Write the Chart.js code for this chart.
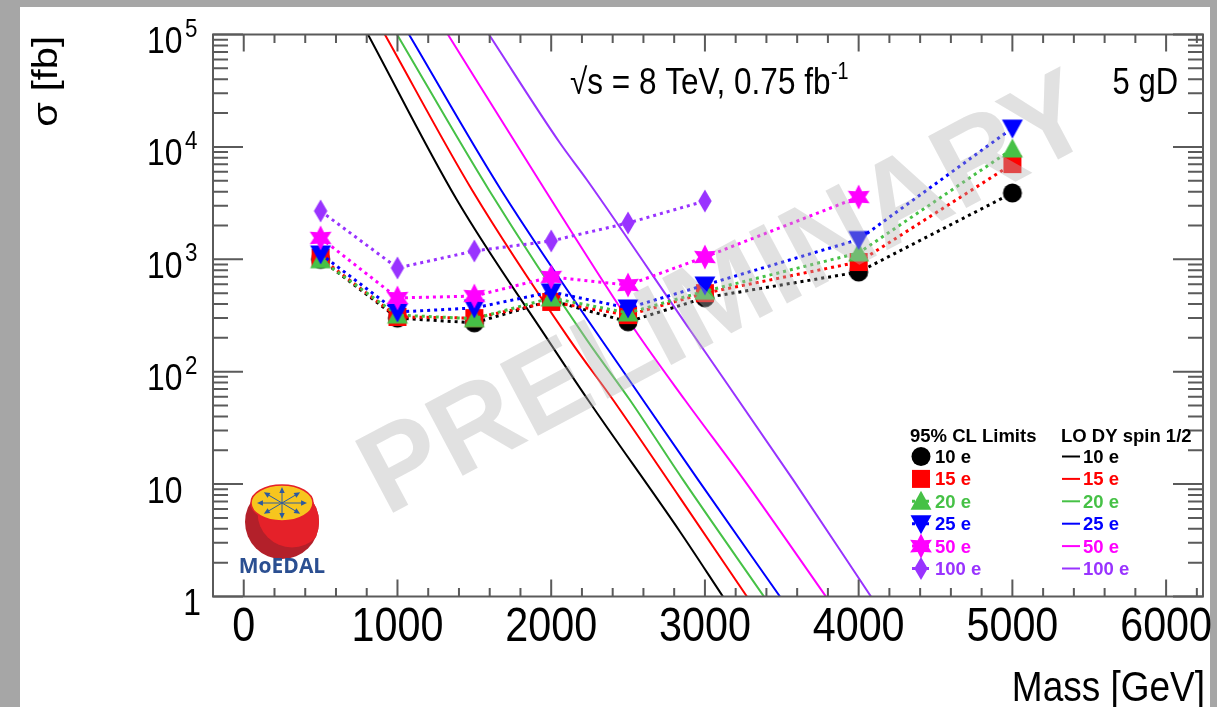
<!DOCTYPE html>
<html>
<head>
<meta charset="utf-8">
<title>MoEDAL 5 gD cross-section limits</title>
<script src="https://cdn.jsdelivr.net/npm/chart.js@4.4.1/dist/chart.umd.min.js"></script>
<style>
  html, body { margin: 0; padding: 0; background: #a6a6a6; overflow: hidden; }
  canvas { display: block; }
</style>
</head>
<body>
<canvas id="limits-chart" width="1217" height="707"></canvas>
<script>
// masses of the limit points [GeV]
const masses = [500, 1000, 1500, 2000, 2500, 3000, 4000, 5000];

// 95% CL cross-section limits [fb]
const limit10 = [1000, 300, 272, 430, 278, 455, 770, 3890];
const limit15 = [1030, 307, 300, 418, 319, 500, 946, 7030];
const limit20 = [990, 319, 296, 453, 333, 520, 1140, 9570];
const limit25 = [1115, 340, 369, 512, 369, 590, 1500, 14700];
const limit50 = [1550, 453, 471, 697, 590, 1047, 3580];
const limit100 = [2690, 837, 1186, 1456, 2104, 3300];

// LO Drell-Yan spin 1/2 cross sections (mass [GeV], sigma [fb])
const dyMass10 = [808, 1387, 1980, 2240, 2839, 3117];
const dySigma10 = [1e5, 3370, 191, 56, 3.75, 1];
const dyMass15 = [918, 1485, 2122, 2403, 2839, 3273];
const dySigma15 = [1e5, 4140, 191, 56, 7.5, 1];
const dyMass20 = [997, 1595, 2233, 2512, 2858, 3384];
const dySigma20 = [1e5, 4140, 191, 56, 10.9, 1];
const dyMass25 = [1075, 1674, 2597, 2956, 3488];
const dySigma25 = [1e5, 4140, 56, 10.9, 1];
const dyMass50 = [1328, 1960, 2545, 2870, 3254, 3787];
const dySigma50 = [1e5, 4140, 235, 56, 10.9, 1];
const dyMass100 = [1595, 2057, 2233, 2903, 3574, 4080];
const dySigma100 = [1e5, 10830, 5080, 235, 10.9, 1];

// axis ticks
const xTickLabels = [0, 1000, 2000, 3000, 4000, 5000, 6000];
const yTickExponents = [0, 1, 2, 3, 4, 5];

const seriesNames = ["10 e", "15 e", "20 e", "25 e", "50 e", "100 e"];
const colors = ["#000000", "#ff0000", "#46c146", "#0000ff", "#ff00ff", "#9933ff"];
const shapes = ["circle", "square", "triUp", "triDown", "star", "diamond"];

const FONT = '"Liberation Sans", Arial, Helvetica, sans-serif';
const SQ = 0.86; // axis text in the picture is a bit narrow

function drawMarker(g, shape, x, y, s, color) {
  g.fillStyle = color;
  g.beginPath();
  if (shape === "circle") {
    g.arc(x, y, s / 2, 0, Math.PI * 2);
  } else if (shape === "square") {
    g.rect(x - s / 2, y - s / 2, s, s);
  } else if (shape === "triUp") {
    g.moveTo(x, y - s * 0.55);
    g.lineTo(x + s * 0.55, y + s * 0.45);
    g.lineTo(x - s * 0.55, y + s * 0.45);
  } else if (shape === "triDown") {
    g.moveTo(x, y + s * 0.55);
    g.lineTo(x + s * 0.55, y - s * 0.45);
    g.lineTo(x - s * 0.55, y - s * 0.45);
  } else if (shape === "star") {
    for (let i = 0; i < 12; i++) {
      const r = i % 2 === 0 ? s * 0.6 : s * 0.32;
      const a = -Math.PI / 2 + i * Math.PI / 6;
      g.lineTo(x + r * Math.cos(a), y + r * Math.sin(a));
    }
  } else if (shape === "diamond") {
    g.moveTo(x, y - s * 0.55);
    g.lineTo(x + s * 0.32, y);
    g.lineTo(x, y + s * 0.55);
    g.lineTo(x - s * 0.32, y);
  }
  g.closePath();
  g.fill();
}

const markerSizes = [19, 18, 19, 19, 21, 21];

function markerCanvas(i) {
  const w = 28;
  const c = document.createElement("canvas");
  c.width = w;
  c.height = w;
  drawMarker(c.getContext("2d"), shapes[i], w / 2, w / 2, markerSizes[i], colors[i]);
  return c;
}

function points(xs, ys) {
  return ys.map((v, i) => ({ x: xs[i], y: v }));
}

const limits = [limit10, limit15, limit20, limit25, limit50, limit100];
const dyMasses = [dyMass10, dyMass15, dyMass20, dyMass25, dyMass50, dyMass100];
const dySigmas = [dySigma10, dySigma15, dySigma20, dySigma25, dySigma50, dySigma100];

const datasets = [];
dyMasses.forEach((m, i) => {
  datasets.push({
    label: "LO DY " + seriesNames[i],
    data: points(m, dySigmas[i]),
    borderColor: colors[i],
    borderWidth: 2,
    pointRadius: 0,
    fill: false,
    cubicInterpolationMode: "monotone",
    order: 20 - i,
  });
});
limits.forEach((vals, i) => {
  datasets.push({
    label: seriesNames[i],
    data: points(masses, vals),
    borderColor: colors[i],
    backgroundColor: colors[i],
    borderWidth: 3,
    borderDash: [3, 4],
    pointStyle: markerCanvas(i),
    pointRadius: 10,
    fill: false,
    tension: 0,
    order: 6 - i,
  });
});

function squeezed(ctx, text, x, y, align, sx) {
  ctx.save();
  ctx.translate(x, y);
  ctx.scale(sx, 1);
  ctx.textAlign = align;
  ctx.fillText(text, 0, 0);
  ctx.restore();
}

function drawLogo(ctx) {
  const cx = 282, cy = 522, r = 37;
  ctx.save();
  ctx.beginPath();
  ctx.arc(cx, cy, r, 0, Math.PI * 2);
  ctx.fillStyle = "#b3202a";
  ctx.fill();
  ctx.clip();
  ctx.beginPath();
  ctx.arc(cx + 10, cy - 9, r * 0.93, 0, Math.PI * 2);
  ctx.fillStyle = "#e52129";
  ctx.fill();
  ctx.restore();
  // yellow top
  ctx.beginPath();
  ctx.ellipse(cx, cy - 19, 31, 18, 0, 0, Math.PI * 2);
  ctx.fillStyle = "#f7c51e";
  ctx.fill();
  ctx.lineWidth = 1.5;
  ctx.strokeStyle = "#e52129";
  ctx.stroke();
  // arrows
  ctx.strokeStyle = "#2c5aa0";
  ctx.fillStyle = "#2c5aa0";
  ctx.lineWidth = 1;
  const ay = cy - 19;
  for (let k = 0; k < 8; k++) {
    const a = k * Math.PI / 4;
    const ex = cx + Math.cos(a) * 22, ey = ay + Math.sin(a) * 13;
    ctx.beginPath();
    ctx.moveTo(cx, ay);
    ctx.lineTo(ex, ey);
    ctx.stroke();
    const ang = Math.atan2(ey - ay, ex - cx);
    ctx.beginPath();
    ctx.moveTo(ex + Math.cos(ang) * 3, ey + Math.sin(ang) * 3);
    ctx.lineTo(ex + Math.cos(ang + 2.4) * 4, ey + Math.sin(ang + 2.4) * 4);
    ctx.lineTo(ex + Math.cos(ang - 2.4) * 4, ey + Math.sin(ang - 2.4) * 4);
    ctx.closePath();
    ctx.fill();
  }
  ctx.fillStyle = "#2b4f91";
  ctx.font = 'bold 21px "Open Sans", ' + FONT;
  ctx.textAlign = "center";
  ctx.textBaseline = "alphabetic";
  ctx.fillText("MoEDAL", cx, 573);
}

const rootStyle = {
  id: "rootStyle",
  beforeDraw(chart) {
    const ctx = chart.ctx;
    ctx.save();
    ctx.fillStyle = "#a6a6a6";
    ctx.fillRect(0, 0, chart.width, chart.height);
    ctx.fillStyle = "#ffffff";
    ctx.fillRect(20, 7, 1190, 720);
    ctx.restore();
  },
  afterDatasetsDraw(chart) {
    const ctx = chart.ctx;
    ctx.save();
    ctx.translate(728, 298);
    ctx.rotate(-28 * Math.PI / 180);
    ctx.font = "bold 118px " + FONT;
    ctx.fillStyle = "rgba(181,181,181,0.4)";
    ctx.textAlign = "center";
    ctx.textBaseline = "middle";
    ctx.fillText("PRELIMINARY", 0, 0);
    ctx.restore();
  },
  afterDraw(chart) {
    const ctx = chart.ctx;
    const a = chart.chartArea;
    const xs = chart.scales.x, ys = chart.scales.y;
    ctx.save();
    ctx.strokeStyle = "#5a5a5a";
    ctx.lineWidth = 2;
    ctx.strokeRect(a.left, a.top, a.right - a.left, a.bottom - a.top);

    // x ticks (inside, bottom and top)
    ctx.beginPath();
    for (let v = 0; v <= xs.max; v += 200) {
      const px = xs.getPixelForValue(v);
      const len = v % 1000 === 0 ? 17 : 8.5;
      ctx.moveTo(px, a.bottom);
      ctx.lineTo(px, a.bottom - len);
      ctx.moveTo(px, a.top);
      ctx.lineTo(px, a.top + len);
    }
    // y ticks (inside, left and right)
    for (let e = 0; e < 5; e++) {
      for (let k = 1; k <= 10; k++) {
        const py = ys.getPixelForValue(k * Math.pow(10, e));
        const len = (k === 1 || k === 10) ? 30 : 15;
        ctx.moveTo(a.left, py);
        ctx.lineTo(a.left + len, py);
        ctx.moveTo(a.right, py);
        ctx.lineTo(a.right - len, py);
      }
    }
    ctx.stroke();

    ctx.fillStyle = "#000000";
    ctx.textBaseline = "alphabetic";
    // x labels
    ctx.font = "48px " + FONT;
    xTickLabels.forEach(v => {
      squeezed(ctx, String(v), xs.getPixelForValue(v), 641, "center", SQ);
    });
    // y labels
    yTickExponents.forEach(e => {
      const py = ys.getPixelForValue(Math.pow(10, e));
      ctx.font = "37px " + FONT;
      if (e === 0) {
        squeezed(ctx, "1", 201, py + 18, "right", SQ);
      } else {
        squeezed(ctx, "10", 147, py + 18.5, "left", SQ);
        if (e > 1) {
          ctx.font = "26px " + FONT;
          squeezed(ctx, String(e), 185, py + 2, "left", SQ);
        }
      }
    });
    // axis titles
    ctx.font = "43px " + FONT;
    squeezed(ctx, "Mass [GeV]", 1205, 701, "right", SQ);
    ctx.save();
    ctx.translate(57, 36);
    ctx.rotate(-Math.PI / 2);
    ctx.scale(0.97, SQ);
    ctx.font = "41px " + FONT;
    ctx.textAlign = "right";
    ctx.fillText("\u03c3 [fb]", 0, 0);
    ctx.restore();

    // annotations
    ctx.font = "36px " + FONT;
    squeezed(ctx, "\u221as = 8 TeV, 0.75 fb", 570, 94, "left", SQ + 0.015);
    ctx.font = "23px " + FONT;
    squeezed(ctx, "-1", 831, 79, "left", SQ);
    ctx.font = "36px " + FONT;
    squeezed(ctx, "5 gD", 1178, 94, "right", SQ);

    // legend
    ctx.font = "bold 18.5px " + FONT;
    ctx.textAlign = "left";
    ctx.fillText("95% CL Limits", 910, 442);
    ctx.fillText("LO DY spin 1/2", 1061, 442);
    seriesNames.forEach((name, i) => {
      const y = 463 + i * 22.4;
      const my = y - 6.5;
      ctx.strokeStyle = colors[i];
      ctx.lineWidth = 3;
      ctx.setLineDash([3, 4]);
      ctx.beginPath();
      ctx.moveTo(912, my);
      ctx.lineTo(931, my);
      ctx.stroke();
      ctx.setLineDash([]);
      drawMarker(ctx, shapes[i], 921, my, markerSizes[i], colors[i]);
      ctx.lineWidth = 2;
      ctx.beginPath();
      ctx.moveTo(1062, my);
      ctx.lineTo(1080, my);
      ctx.stroke();
      ctx.fillStyle = colors[i];
      ctx.fillText(name, 935, y);
      ctx.fillText(name, 1083, y);
    });

    drawLogo(ctx);
    ctx.restore();
  },
};

new Chart(document.getElementById("limits-chart"), {
  type: "line",
  data: { datasets: datasets },
  options: {
    responsive: false,
    animation: false,
    devicePixelRatio: 1,
    events: [],
    layout: { padding: { left: 213, top: 34.5, right: 14, bottom: 110.5 } },
    scales: {
      x: { type: "linear", min: -200, max: 6240, display: false },
      y: { type: "logarithmic", min: 1, max: 1e5, display: false },
    },
    plugins: {
      legend: { display: false },
      tooltip: { enabled: false },
    },
  },
  plugins: [rootStyle],
});
</script>
</body>
</html>
